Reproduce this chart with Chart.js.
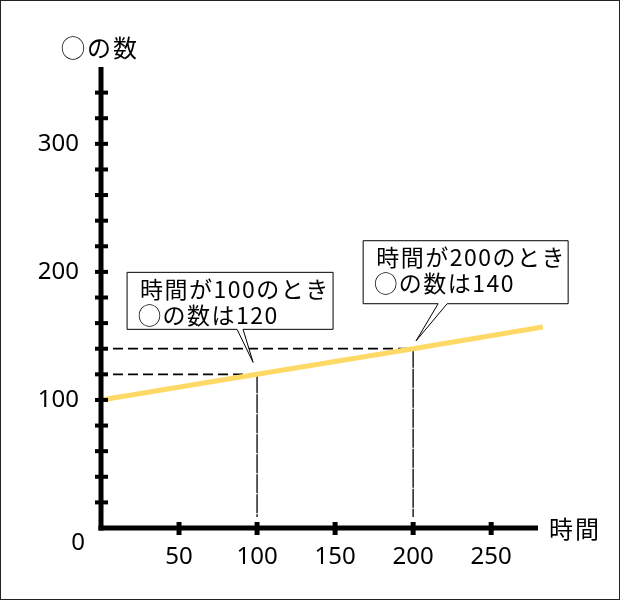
<!DOCTYPE html>
<html>
<head>
<meta charset="utf-8">
<script src="https://cdn.jsdelivr.net/npm/chart.js@4.4.1/dist/chart.umd.min.js"></script>
<style>
  body { margin: 0; background: #fff; }
  #wrap { position: relative; width: 620px; height: 600px; }
  #frame { position: absolute; left: 0; top: 0; width: 618px; height: 598px; border: 1px solid #222; pointer-events: none; }
</style>
</head>
<body>
<div id="wrap">
  <canvas id="chart" width="620" height="600"></canvas>
  <div id="frame"></div>
</div>
<script>
// data
const timeValues = [0, 100, 200, 283];
const countValues = [100, 120, 140, 157];
const xLabelValues = [50, 100, 150, 200, 250];
const yLabelValues = [100, 200, 300];
const yTickValues = [20, 40, 60, 80, 100, 120, 140, 160, 180, 200, 220, 240, 260, 280, 300, 320, 340];
const calloutTimes = [100, 200];
const calloutCounts = [120, 140];
const calloutTexts = [
  ["時間が100のとき", "◯の数は120"],
  ["時間が200のとき", "◯の数は140"]
];

const FONT = '"Noto Sans CJK JP", sans-serif';
const NUM_FONT = '"Noto Sans", "Noto Sans CJK JP", sans-serif';

function drawCallout(ctx, box, base, tip, lines) {
  ctx.save();
  ctx.beginPath();
  ctx.moveTo(box.l, box.t);
  ctx.lineTo(box.r, box.t);
  ctx.lineTo(box.r, box.b);
  ctx.lineTo(base[1], box.b);
  ctx.lineTo(tip.x, tip.y);
  ctx.lineTo(base[0], box.b);
  ctx.lineTo(box.l, box.b);
  ctx.closePath();
  ctx.fillStyle = "#fff";
  ctx.fill();
  ctx.strokeStyle = "#000";
  ctx.lineWidth = 1;
  ctx.stroke();
  ctx.fillStyle = "#000";
  ctx.font = "23px " + FONT;
  ctx.letterSpacing = "1.5px";
  ctx.textAlign = "left";
  ctx.textBaseline = "middle";
  ctx.fillText(lines[0], box.l + 13, box.t + 17);
  ctx.fillText(lines[1], box.l + 11, box.t + 43);
  ctx.restore();
}

const guidePlugin = {
  id: "guides",
  beforeDatasetsDraw(chart) {
    const { ctx, scales: { x, y } } = chart;
    ctx.save();
    calloutTimes.forEach((t, i) => {
      const px = x.getPixelForValue(t);
      const py = y.getPixelForValue(calloutCounts[i]);
      ctx.strokeStyle = "#000";
      ctx.lineWidth = 1.8;
      ctx.setLineDash([10, 5]);
      ctx.beginPath();
      ctx.moveTo(x.left + 12, py);
      ctx.lineTo(px, py);
      ctx.stroke();
      ctx.strokeStyle = "#222";
      ctx.lineWidth = 1.5;
      ctx.setLineDash([19, 1]);
      ctx.beginPath();
      ctx.moveTo(px, py);
      ctx.lineTo(px, y.bottom - 11);
      ctx.stroke();
    });
    ctx.restore();
  },
  afterDatasetsDraw(chart) {
    const { ctx, scales: { x, y } } = chart;
    const left = x.left, bottom = y.bottom;
    ctx.save();
    ctx.fillStyle = "#000";
    // axes
    ctx.fillRect(left - 2.5, y.top, 5, bottom - y.top + 2.5);
    ctx.fillRect(left - 2.5, bottom - 2.5, x.right - left + 2.5, 5);
    // crossing ticks
    yTickValues.forEach(v => {
      const py = y.getPixelForValue(v);
      ctx.fillRect(left - 6, py - 2, 13, 4);
    });
    xLabelValues.forEach(v => {
      const px = x.getPixelForValue(v);
      ctx.fillRect(px - 2.5, bottom - 6, 5, 13);
    });
    // origin label
    ctx.font = "24px " + NUM_FONT;
    ctx.textAlign = "center";
    ctx.textBaseline = "middle";
    ctx.fillText("0", left - 23, bottom + 15);
    // axis titles
    ctx.font = "24px " + FONT;
    ctx.letterSpacing = "2px";
    ctx.textAlign = "left";
    ctx.fillText("◯の数", 61, 48);
    ctx.fillText("時間", 549, 529);
    ctx.restore();

    // callouts
    const p1 = { x: x.getPixelForValue(calloutTimes[0]), y: y.getPixelForValue(calloutCounts[0]) };
    drawCallout(ctx,
      { l: p1.x - 130, r: p1.x + 76, t: p1.y - 102, b: p1.y - 45 },
      [p1.x - 20, p1.x - 14], { x: p1.x - 4, y: p1.y - 12 }, calloutTexts[0]);
    const p2 = { x: x.getPixelForValue(calloutTimes[1]), y: y.getPixelForValue(calloutCounts[1]) };
    drawCallout(ctx,
      { l: p2.x - 50, r: p2.x + 155, t: p2.y - 108, b: p2.y - 45 },
      [p2.x + 25, p2.x + 34], { x: p2.x + 3, y: p2.y - 8 }, calloutTexts[1]);
  }
};

new Chart(document.getElementById("chart"), {
  type: "line",
  data: {
    datasets: [{
      data: timeValues.map((t, i) => ({ x: t, y: countValues[i] })),
      borderColor: "#ffd966",
      borderWidth: 5,
      pointRadius: 0,
      tension: 0,
      clip: false
    }]
  },
  options: {
    responsive: false,
    animation: false,
    layout: { padding: { left: 0, top: 67, right: 82, bottom: 0 } },
    plugins: { legend: { display: false }, tooltip: { enabled: false } },
    scales: {
      x: {
        type: "linear",
        min: 0,
        max: 280,
        grid: { display: false, drawTicks: false },
        border: { display: false },
        afterFit: s => { s.height = 72; },
        afterBuildTicks: s => { s.ticks = xLabelValues.map(v => ({ value: v })); },
        ticks: {
          padding: 15,
          color: "#000",
          font: { family: NUM_FONT, size: 24 },
          maxRotation: 0,
          autoSkip: false,
          callback: v => String(v)
        }
      },
      y: {
        min: 0,
        max: 360,
        grid: { display: false, drawTicks: false },
        border: { display: false },
        afterFit: s => { s.width = 101; },
        afterBuildTicks: s => { s.ticks = yLabelValues.map(v => ({ value: v })); },
        ticks: {
          padding: 22,
          color: "#000",
          font: { family: NUM_FONT, size: 24 },
          autoSkip: false,
          callback: v => String(v)
        }
      }
    }
  },
  plugins: [guidePlugin]
});
</script>
</body>
</html>
